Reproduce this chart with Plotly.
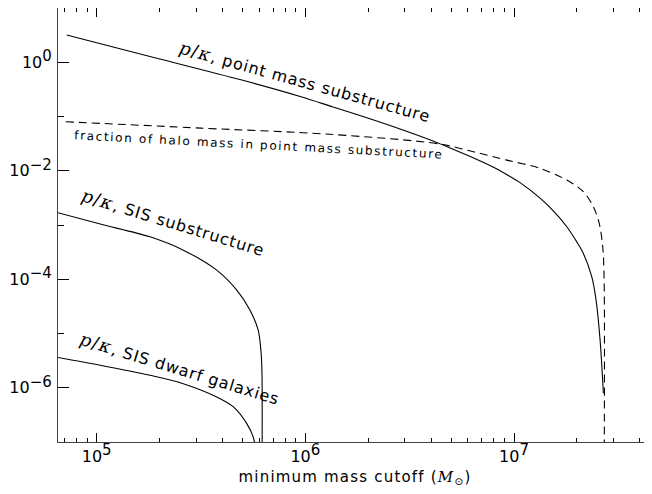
import plotly.graph_objects as go

# ---- data ----
pm_mass = [7.18e4, 1.80e5, 4.86e5, 9.44e5, 1.357e6, 1.953e6, 2.842e6, 4.091e6, 5.102e6,
           6.362e6, 7.93e6, 9.26e6, 1.069e7, 1.332e7, 1.538e7, 1.789e7, 2.005e7, 2.148e7,
           2.358e7, 2.472e7, 2.584e7, 2.679e7]
pm_pk = [3.19, 1.274, 0.4795, 0.2339, 0.1497, 0.0958, 0.0588, 0.0353, 0.0250,
         0.01744, 0.01175, 0.00845, 0.00603, 0.00312, 0.001835, 9.30e-4, 4.78e-4, 2.99e-4,
         1.107e-4, 4.12e-5, 7.52e-6, 7.91e-7]

frac_mass = [7.10e4, 3.16e5, 1.31e6, 4.42e6, 6.38e6, 9.23e6, 1.33e7, 1.79e7, 2.15e7,
             2.40e7, 2.56e7, 2.66e7, 2.70e7, 2.70e7]
frac_val = [0.0802, 0.0610, 0.0470, 0.0311, 0.0224, 0.0157, 0.0111, 0.00673, 0.00410,
            0.00217, 0.00107, 3.96e-4, 1.11e-4, 1e-8]

sis_mass = [6.31e4, 1.04e5, 1.80e5, 2.60e5, 3.76e5, 4.69e5, 5.43e5, 5.94e5, 6.12e5,
            6.19e5, 6.19e5]
sis_pk = [1.74e-3, 1.04e-3, 6.05e-4, 3.44e-4, 1.47e-4, 6.30e-5, 2.69e-5, 1.15e-5,
          4.92e-6, 2.10e-6, 1e-8]

dwarf_mass = [6.31e4, 1.04e5, 1.80e5, 2.60e5, 3.76e5, 4.52e5, 5.24e5, 5.62e5, 5.82e5]
dwarf_pk = [3.69e-6, 2.60e-6, 1.70e-6, 1.19e-6, 6.76e-7, 4.43e-7, 2.18e-7, 1.24e-7, 6.3e-8]

x_major = [1e5, 1e6, 1e7]
x_exponents = ["5", "6", "7"]
x_minor = [7e4, 8e4, 9e4] + [k * 1e5 for k in range(2, 10)] + [k * 1e6 for k in range(2, 10)] + [2e7, 3e7, 4e7]
y_major = [1e0, 1e-2, 1e-4, 1e-6]
y_exponents = ["0", "\u22122", "\u22124", "\u22126"]
y_minor = [1e-1, 1e-3, 1e-5]

FONT = "DejaVu Sans"
SERIF = "DejaVu Serif"
PK = ('<span style="font-family:%s;font-size:18px;letter-spacing:1.2px"><i>p</i>/<i>\u03ba</i></span>'
      % SERIF)


def spaced(text, px):
    return '<span style="letter-spacing:%spx">%s</span>' % (px, text)


def power(e):
    return '10<sup><span style="font-size:15px">%s</span></sup>' % e


fig = go.Figure()
solid = dict(color="black", width=1.1, shape="spline", smoothing=0.9)
fig.add_trace(go.Scatter(x=pm_mass, y=pm_pk, mode="lines", line=solid))
fig.add_trace(go.Scatter(x=frac_mass, y=frac_val, mode="lines",
                         line=dict(color="black", width=1.1, dash="8px,5px", shape="spline", smoothing=0.9)))
fig.add_trace(go.Scatter(x=sis_mass, y=sis_pk, mode="lines", line=solid))
fig.add_trace(go.Scatter(x=dwarf_mass, y=dwarf_pk, mode="lines", line=solid))
# empty trace to host the right-hand tick axis
fig.add_trace(go.Scatter(x=[], y=[], yaxis="y2", showlegend=False))

fig.update_layout(
    width=652, height=494,
    margin=dict(l=50, r=8, t=0, b=60, autoexpand=False),
    paper_bgcolor="white", plot_bgcolor="white",
    showlegend=False,
    font=dict(family=FONT, color="black", size=16),
    xaxis=dict(type="log", range=[4.8145, 7.661], showgrid=False, zeroline=False, automargin=False,
               showline=True, linecolor="#444", linewidth=1, mirror="ticks",
               ticks="inside", ticklen=9, tickcolor="black", tickwidth=1,
               tickvals=x_major, ticktext=[power(e) for e in x_exponents], tickfont=dict(size=16),
               minor=dict(tickvals=x_minor, ticks="inside", ticklen=4, tickcolor="black", tickwidth=1),
               title=dict(text=spaced('minimum mass cutoff (<span style="font-family:%s"><i>M</i></span><sub>\u2299</sub>)' % SERIF, 1.2),
                          font=dict(size=15), standoff=6)),
    yaxis=dict(type="log", range=[-7, 1], showgrid=False, zeroline=False, automargin=False,
               showline=True, linecolor="#444", linewidth=1, mirror=False,
               ticks="inside", ticklen=11, tickcolor="black", tickwidth=1, ticklabelstandoff=2,
               tickvals=y_major, ticktext=[power(e) for e in y_exponents], tickfont=dict(size=16),
               minor=dict(tickvals=y_minor, ticks="inside", ticklen=6, tickcolor="black", tickwidth=1)),
    yaxis2=dict(type="log", range=[-7, 1], overlaying="y", side="right", showgrid=False, automargin=False,
                zeroline=False, showline=False, ticks="inside", ticklen=4, tickcolor="black",
                tickvals=y_major, showticklabels=False),
)

ann_font = dict(family=FONT, size=16, color="black")
fig.add_annotation(x=6.0, y=-0.354, text=PK + spaced(", point mass substructure", 0.9), textangle=15.5,
                   showarrow=False, font=ann_font, xanchor="center", yanchor="middle")
fig.add_annotation(x=5.778, y=-1.517, text=spaced("fraction of halo mass in point mass substructure", 1.65),
                   textangle=3, showarrow=False, font=dict(family=FONT, size=12, color="black"),
                   xanchor="center", yanchor="middle")
fig.add_annotation(x=5.37, y=-2.947, text=PK + spaced(", SIS substructure", 0.9), textangle=17,
                   showarrow=False, font=ann_font, xanchor="center", yanchor="middle")
fig.add_annotation(x=5.40, y=-5.640, text=PK + spaced(", SIS dwarf galaxies", 0.9), textangle=17,
                   showarrow=False, font=ann_font, xanchor="center", yanchor="middle")

fig.write_html("out.html")
